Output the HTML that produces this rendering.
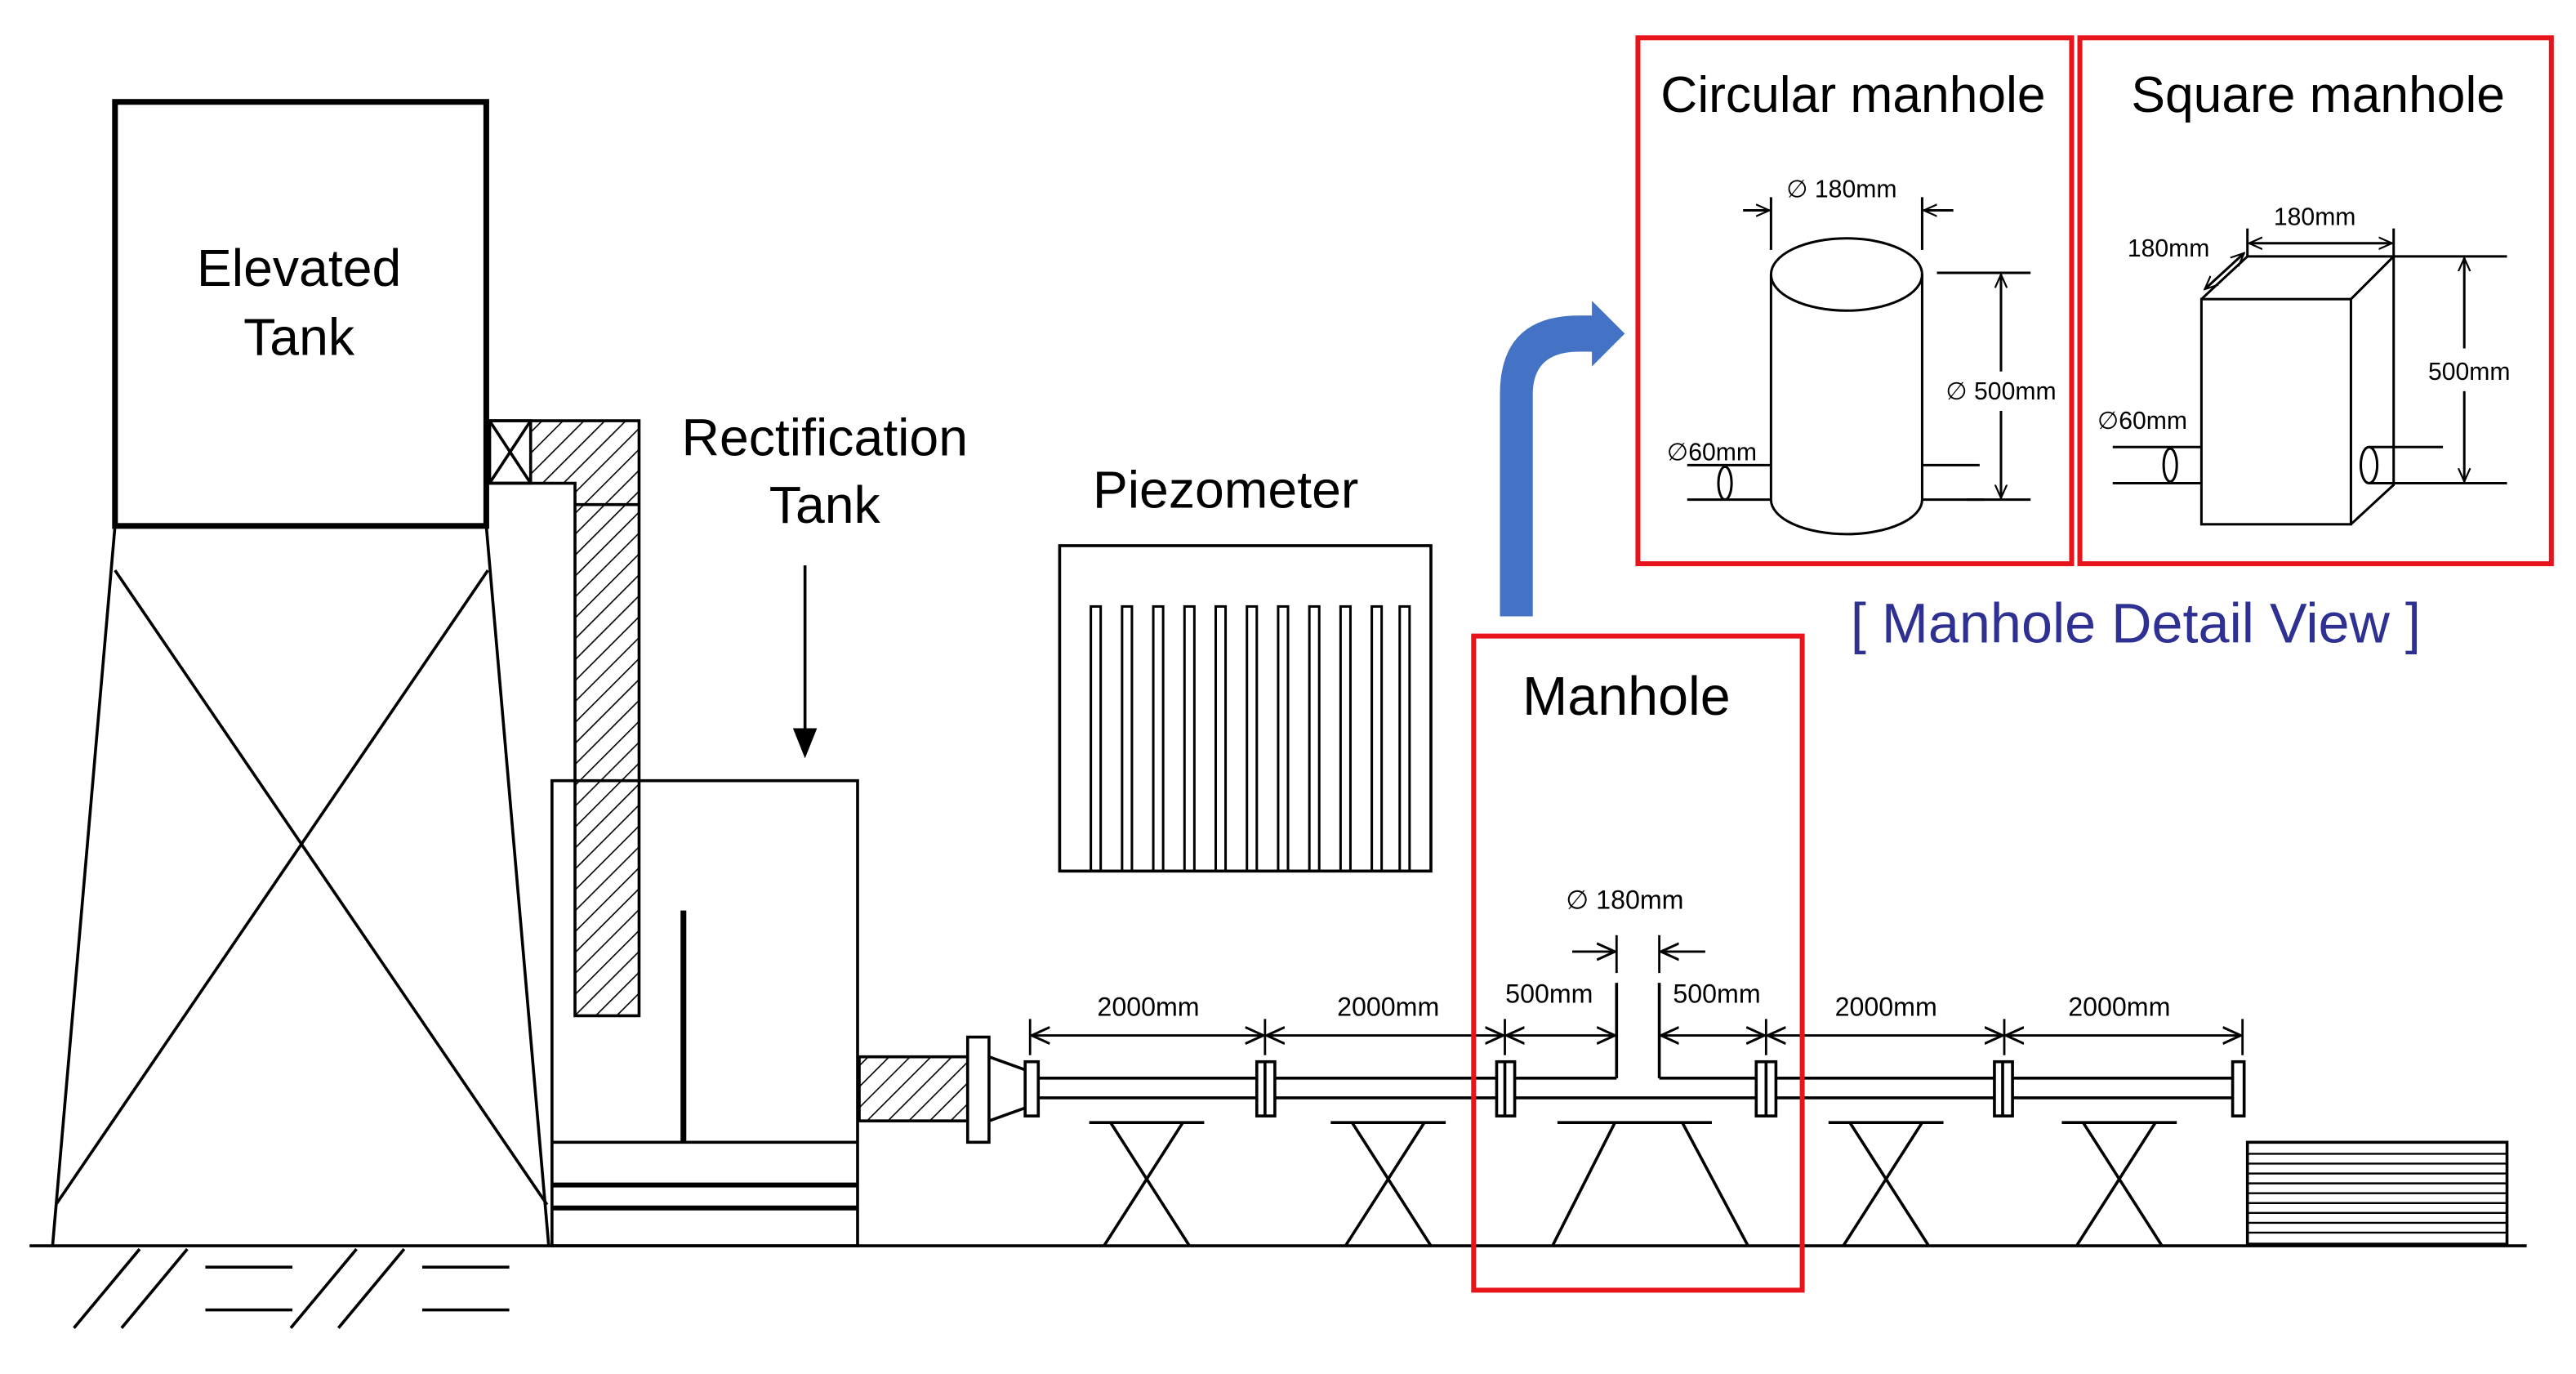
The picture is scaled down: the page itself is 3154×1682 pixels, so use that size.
<!DOCTYPE html>
<html><head><meta charset="utf-8"><style>
html,body{margin:0;padding:0;background:#fff}
svg{display:block}
text{font-family:"Liberation Sans",Arial,sans-serif;fill:#000}
</style></head><body>
<svg width="3154" height="1682" viewBox="0 0 1568 836" preserveAspectRatio="none" xmlns="http://www.w3.org/2000/svg">
<defs>
<marker id="a" viewBox="0 0 12 12" refX="11" refY="6" markerWidth="12" markerHeight="12" markerUnits="userSpaceOnUse" orient="auto-start-reverse">
<path d="M0,1 L11,6 L0,11" fill="none" stroke="#000" stroke-width="1.5"/></marker>
<marker id="b" viewBox="0 0 10 10" refX="9" refY="5" markerWidth="9" markerHeight="9" markerUnits="userSpaceOnUse" orient="auto-start-reverse">
<path d="M0,1 L9,5 L0,9" fill="none" stroke="#000" stroke-width="1.2"/></marker>
<pattern id="h" width="9" height="9" patternUnits="userSpaceOnUse" patternTransform="rotate(45)">
<line x1="0" y1="0" x2="0" y2="9" stroke="#000" stroke-width="1.6"/></pattern>
</defs>
<g fill="none" stroke="#000" stroke-width="1.8">
<rect x="70" y="62" width="226" height="258" stroke-width="3.5"/>
<line x1="70" y1="320" x2="32" y2="758"/><line x1="296" y1="320" x2="334" y2="758"/>
<line x1="70" y1="347" x2="333" y2="733"/><line x1="297" y1="347" x2="34" y2="733"/>
<line x1="18" y1="758" x2="1538" y2="758"/>
<line x1="45" y1="808" x2="85" y2="760"/><line x1="74" y1="808" x2="114" y2="760"/>
<line x1="125" y1="771" x2="178" y2="771"/><line x1="125" y1="797" x2="178" y2="797"/>
<line x1="177" y1="808" x2="217" y2="760"/><line x1="206" y1="808" x2="246" y2="760"/>
<line x1="257" y1="771" x2="310" y2="771"/><line x1="257" y1="797" x2="310" y2="797"/>
<rect x="323" y="256" width="66" height="38" fill="url(#h)" stroke="none"/>
<rect x="350" y="294" width="39" height="324" fill="url(#h)" stroke="none"/>
<path d="M298,256 H389 V618 H350 V294 H298 Z"/>
<rect x="298" y="256" width="25" height="38"/>
<line x1="298" y1="256" x2="323" y2="294"/><line x1="323" y1="256" x2="298" y2="294"/>
<line x1="350" y1="307" x2="389" y2="307"/>
<rect x="336" y="475" width="186" height="283"/>
<line x1="336" y1="695" x2="522" y2="695"/>
<line x1="336" y1="721" x2="522" y2="721" stroke-width="3"/>
<line x1="336" y1="735" x2="522" y2="735" stroke-width="3"/>
<line x1="416" y1="554" x2="416" y2="695" stroke-width="3.5"/>
<line x1="490" y1="344" x2="490" y2="447"/>
<path d="M484,444 L490,459 L496,444 Z" fill="#000"/>
<rect x="523" y="643" width="66" height="39" fill="url(#h)"/>
<rect x="589" y="631" width="13" height="64" fill="#fff"/>
<line x1="602" y1="643" x2="627" y2="652"/><line x1="602" y1="682" x2="627" y2="673"/>
<line x1="630" y1="656" x2="984" y2="656"/><line x1="1010" y1="656" x2="1362" y2="656"/>
<line x1="630" y1="668" x2="1362" y2="668"/>
<line x1="984" y1="598" x2="984" y2="656"/><line x1="1010" y1="598" x2="1010" y2="656"/>
<g fill="#fff">
<rect x="624" y="646" width="8" height="33"/>
<rect x="765" y="646" width="11" height="33"/><line x1="770" y1="646" x2="770" y2="679"/>
<rect x="911" y="646" width="11" height="33"/><line x1="916" y1="646" x2="916" y2="679"/>
<rect x="1069" y="646" width="12" height="33"/><line x1="1075" y1="646" x2="1075" y2="679"/>
<rect x="1214" y="646" width="11" height="33"/><line x1="1219" y1="646" x2="1219" y2="679"/>
<rect x="1359" y="646" width="7" height="33"/>
</g>
<g stroke-width="1.4">
<line x1="627" y1="620" x2="627" y2="642"/><line x1="770" y1="620" x2="770" y2="642"/>
<line x1="916" y1="620" x2="916" y2="642"/><line x1="1075" y1="620" x2="1075" y2="642"/>
<line x1="1220" y1="620" x2="1220" y2="642"/><line x1="1365" y1="620" x2="1365" y2="642"/>
<line x1="628" y1="630" x2="769" y2="630" marker-start="url(#a)" marker-end="url(#a)"/>
<line x1="771" y1="630" x2="915" y2="630" marker-start="url(#a)" marker-end="url(#a)"/>
<line x1="917" y1="630" x2="983" y2="630" marker-start="url(#a)" marker-end="url(#a)"/>
<line x1="1011" y1="630" x2="1074" y2="630" marker-start="url(#a)" marker-end="url(#a)"/>
<line x1="1076" y1="630" x2="1219" y2="630" marker-start="url(#a)" marker-end="url(#a)"/>
<line x1="1221" y1="630" x2="1364" y2="630" marker-start="url(#a)" marker-end="url(#a)"/>
<line x1="984" y1="569" x2="984" y2="592"/><line x1="1010" y1="569" x2="1010" y2="592"/>
<line x1="957" y1="579" x2="983" y2="579" marker-end="url(#a)"/>
<line x1="1038" y1="579" x2="1011" y2="579" marker-end="url(#a)"/>
</g>
<g>
<line x1="663" y1="683" x2="733" y2="683"/><line x1="676" y1="683" x2="724" y2="758"/><line x1="720" y1="683" x2="672" y2="758"/>
<line x1="810" y1="683" x2="880" y2="683"/><line x1="823" y1="683" x2="871" y2="758"/><line x1="867" y1="683" x2="819" y2="758"/>
<line x1="1113" y1="683" x2="1183" y2="683"/><line x1="1126" y1="683" x2="1174" y2="758"/><line x1="1170" y1="683" x2="1122" y2="758"/>
<line x1="1255" y1="683" x2="1325" y2="683"/><line x1="1268" y1="683" x2="1316" y2="758"/><line x1="1312" y1="683" x2="1264" y2="758"/>
<line x1="948" y1="683" x2="1042" y2="683"/><line x1="983" y1="683" x2="945" y2="758"/><line x1="1024" y1="683" x2="1064" y2="758"/>
</g>
<rect x="1368" y="695" width="158" height="62"/>
<g stroke-width="1.2">
<line x1="1368" y1="702" x2="1526" y2="702"/><line x1="1368" y1="708" x2="1526" y2="708"/>
<line x1="1368" y1="714" x2="1526" y2="714"/><line x1="1368" y1="720" x2="1526" y2="720"/>
<line x1="1368" y1="726" x2="1526" y2="726"/><line x1="1368" y1="732" x2="1526" y2="732"/>
<line x1="1368" y1="738" x2="1526" y2="738"/><line x1="1368" y1="744" x2="1526" y2="744"/>
<line x1="1368" y1="750" x2="1526" y2="750"/>
</g>
<rect x="645" y="332" width="226" height="198"/>
<g stroke-width="1.5">
<rect x="664" y="369" width="6" height="161"/><rect x="683" y="369" width="6" height="161"/>
<rect x="702" y="369" width="6" height="161"/><rect x="721" y="369" width="6" height="161"/>
<rect x="740" y="369" width="6" height="161"/><rect x="759" y="369" width="6" height="161"/>
<rect x="778" y="369" width="6" height="161"/><rect x="797" y="369" width="6" height="161"/>
<rect x="816" y="369" width="6" height="161"/><rect x="835" y="369" width="6" height="161"/>
<rect x="852" y="369" width="6" height="161"/>
</g>
</g>
<g fill="none" stroke="#e8141b" stroke-width="3">
<rect x="897" y="387" width="200" height="398"/>
<rect x="997" y="23" width="264" height="320"/>
<rect x="1266" y="23" width="287" height="320"/>
</g>
<path d="M913,375 V240 Q913,192 961,192 H969 V183 L989,203 L969,223 V214 H961 Q933,214 933,240 V375 Z" fill="#4472C4"/>
<g fill="none" stroke="#000" stroke-width="1.5">
<ellipse cx="1124" cy="167" rx="46" ry="22"/>
<line x1="1078" y1="167" x2="1078" y2="304"/><line x1="1170" y1="167" x2="1170" y2="304"/>
<path d="M1078,304 A46,21 0 0 0 1170,304"/>
<line x1="1078" y1="120" x2="1078" y2="152"/><line x1="1170" y1="120" x2="1170" y2="152"/>
<line x1="1061" y1="128" x2="1077" y2="128" marker-end="url(#b)"/>
<line x1="1189" y1="128" x2="1171" y2="128" marker-end="url(#b)"/>
<line x1="1179" y1="166" x2="1236" y2="166"/><line x1="1197" y1="304" x2="1236" y2="304"/>
<line x1="1218" y1="226" x2="1218" y2="167" marker-end="url(#b)"/>
<line x1="1218" y1="250" x2="1218" y2="303" marker-end="url(#b)"/>
<line x1="1027" y1="283" x2="1078" y2="283"/><line x1="1027" y1="304" x2="1078" y2="304"/>
<ellipse cx="1050" cy="294" rx="4" ry="10"/>
<line x1="1170" y1="283" x2="1205" y2="283"/><line x1="1170" y1="304" x2="1208" y2="304"/>
<rect x="1340" y="182" width="91" height="137"/>
<path d="M1340,182 L1368,156 H1457 V295 L1431,319 M1431,182 L1457,156"/>
<line x1="1368" y1="139" x2="1368" y2="156"/><line x1="1457" y1="139" x2="1457" y2="156"/>
<line x1="1369" y1="148" x2="1456" y2="148" marker-start="url(#b)" marker-end="url(#b)"/>
<line x1="1366" y1="154" x2="1342" y2="176" marker-start="url(#b)" marker-end="url(#b)"/>
<line x1="1457" y1="156" x2="1526" y2="156"/><line x1="1457" y1="294" x2="1526" y2="294"/>
<line x1="1500" y1="212" x2="1500" y2="157" marker-end="url(#b)"/>
<line x1="1500" y1="238" x2="1500" y2="293" marker-end="url(#b)"/>
<line x1="1286" y1="272" x2="1340" y2="272"/><line x1="1286" y1="294" x2="1340" y2="294"/>
<ellipse cx="1321" cy="283" rx="4" ry="10"/>
<ellipse cx="1442" cy="283" rx="5" ry="11"/>
<line x1="1442" y1="272" x2="1487" y2="272"/><line x1="1442" y1="294" x2="1457" y2="294"/>
</g>
<g text-anchor="middle">
<text x="182" y="174" font-size="32">Elevated</text>
<text x="182" y="216" font-size="32">Tank</text>
<text x="502" y="277" font-size="32">Rectification</text>
<text x="502" y="318" font-size="32">Tank</text>
<text x="746" y="309" font-size="32">Piezometer</text>
<text x="990" y="435" font-size="33">Manhole</text>
<text x="1128" y="68" font-size="31">Circular manhole</text>
<text x="1411" y="68" font-size="31">Square manhole</text>
<text x="1300" y="391" font-size="34" style="fill:#2E3192">[ Manhole Detail View ]</text>
<text x="989" y="553" font-size="16">∅ 180mm</text>
<g font-size="16">
<text x="699" y="618">2000mm</text><text x="845" y="618">2000mm</text>
<text x="943" y="610">500mm</text><text x="1045" y="610">500mm</text>
<text x="1148" y="618">2000mm</text><text x="1290" y="618">2000mm</text>
</g>
<g font-size="15">
<text x="1121" y="120">∅ 180mm</text>
<text x="1218" y="243">∅ 500mm</text>
<text x="1042" y="280">∅60mm</text>
<text x="1409" y="137">180mm</text>
<text x="1320" y="156">180mm</text>
<text x="1503" y="231">500mm</text>
<text x="1304" y="261">∅60mm</text>
</g>
</g>
</svg>
</body></html>
